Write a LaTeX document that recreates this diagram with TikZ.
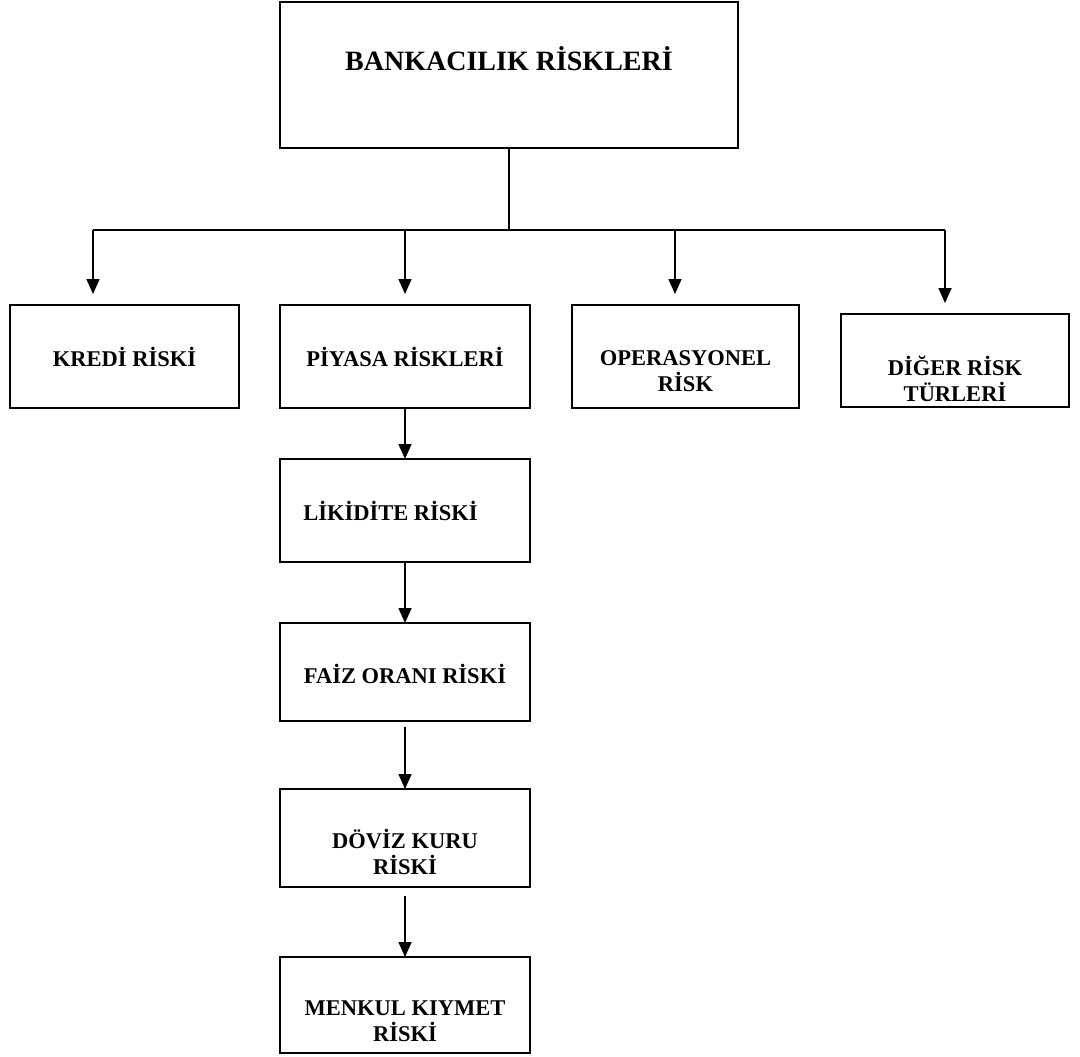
\documentclass[tikz,border=0pt]{standalone}
\usepackage{fontspec}
\setmainfont{Liberation Serif}
\usetikzlibrary{arrows.meta}

\newcommand{\topfont}{\fontsize{28}{32}\selectfont\bfseries}
\newcommand{\boxfont}{\fontsize{22.5}{26}\selectfont\bfseries}

\begin{document}
\begin{tikzpicture}[x=1pt, y=-1pt, line width=1.6pt,
	box/.style={draw, inner sep=0pt, outer sep=0pt, minimum width=250pt, minimum height=103pt},
	lbl/.style={inner sep=0pt, align=center, font=\boxfont},
	arr/.style={-{Triangle[length=15pt, width=13pt]}}]
	\useasboundingbox (0,0) rectangle (1080,1057);
	% top level
	\node[box, minimum width=458pt, minimum height=146pt] (bank) at (509,75) {};
	\node[lbl, font=\topfont] (bank-t) at ([yshift=16pt]bank.center) {BANKACILIK RİSKLERİ};
	% second row
	\node[box, minimum width=229pt] (kredi) at (124.5,356.5) {};
	\node[lbl] (kredi-t) at (kredi.center) {KREDİ RİSKİ};
	\node[box] (piyasa) at (405,356.5) {};
	\node[lbl] (piyasa-t) at (piyasa.center) {PİYASA RİSKLERİ};
	\node[box, minimum width=227pt] (opr) at (685.5,356.5) {};
	\node[lbl] (opr-t) at ([yshift=-15pt]opr.center) {OPERASYONEL\\RİSK};
	\node[box, minimum width=228pt, minimum height=93pt] (diger) at (955,360.5) {};
	\node[lbl] (diger-t) at ([yshift=-18pt]diger.center) {DİĞER RİSK\\TÜRLERİ};
	% market risk column
	\node[box] (likidite) at (405,510.5) {};
	\node[lbl] (likidite-t) at ([xshift=-14.5pt]likidite.center) {LİKİDİTE RİSKİ};
	\node[box, minimum height=98pt] (faiz) at (405,672) {};
	\node[lbl] (faiz-t) at ([yshift=-2pt]faiz.center) {FAİZ ORANI RİSKİ};
	\node[box, minimum height=98pt] (doviz) at (405,838) {};
	\node[lbl] (doviz-t) at ([yshift=-14pt]doviz.center) {DÖVİZ KURU\\RİSKİ};
	\node[box, minimum height=96pt] (menkul) at (405,1005) {};
	\node[lbl] (menkul-t) at ([yshift=-16pt]menkul.center) {MENKUL KIYMET\\RİSKİ};
	% connectors
	\coordinate (bus) at (509,230);
	\coordinate (kredi-in) at ([xshift=-31.5pt, yshift=11pt]kredi.north);
	\coordinate (piyasa-in) at ([yshift=11pt]piyasa.north);
	\coordinate (opr-in) at ([xshift=-10.5pt, yshift=11pt]opr.north);
	\coordinate (diger-in) at ([xshift=-10pt, yshift=11pt]diger.north);
	\draw (bank.south) -- (bank.south |- bus);
	\draw (kredi-in |- bus) -- (diger-in |- bus);
	\foreach \n in {kredi-in, piyasa-in, opr-in, diger-in}
		\draw[arr] (\n |- bus) -- (\n);
	\draw[arr] (piyasa.south) -- (likidite.north);
	\draw[arr] (likidite.south) -- (faiz.north);
	\draw[arr, shorten <=6pt] (faiz.south) -- (doviz.north);
	\draw[arr, shorten <=9pt] (doviz.south) -- (menkul.north);
\end{tikzpicture}
\end{document}
